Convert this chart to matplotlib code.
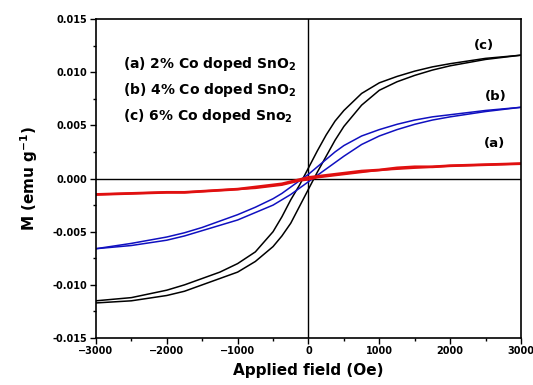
import matplotlib
matplotlib.use("Agg")
import matplotlib.pyplot as plt
from matplotlib.ticker import MultipleLocator

H = [-3000, -2500, -2000, -1750, -1500, -1250, -1000, -750, -500, -375, -250, -125,
     0, 125, 250, 375, 500, 750, 1000, 1250, 1500, 1750, 2000, 2500, 3000]

c_upper = [-0.0115, -0.0112, -0.0105, -0.0100, -0.0094, -0.0088, -0.0080, -0.0069, -0.0050,
           -0.0036, -0.0020, -0.0006, 0.0010, 0.0026, 0.0041, 0.0054, 0.0064, 0.0080,
           0.0090, 0.0096, 0.0101, 0.0105, 0.0108, 0.0113, 0.0116]
c_lower = [-0.0117, -0.0115, -0.0110, -0.0106, -0.0100, -0.0094, -0.0088, -0.0078, -0.0064,
           -0.0054, -0.0042, -0.0026, -0.0010, 0.0006, 0.0021, 0.0036, 0.0049, 0.0069,
           0.0083, 0.0091, 0.0097, 0.0102, 0.0106, 0.0112, 0.0116]

b_upper = [-0.0066, -0.0061, -0.0055, -0.0051, -0.0046, -0.0040, -0.0034, -0.0027, -0.0019,
           -0.0014, -0.0008, -0.0002, 0.0004, 0.0011, 0.0018, 0.0025, 0.0031, 0.0040,
           0.0046, 0.0051, 0.0055, 0.0058, 0.0060, 0.0064, 0.0067]
b_lower = [-0.0066, -0.0063, -0.0058, -0.0054, -0.0049, -0.0044, -0.0039, -0.0032, -0.0025,
           -0.0020, -0.0015, -0.0009, -0.0003, 0.0003, 0.0009, 0.0015, 0.0021, 0.0032,
           0.0040, 0.0046, 0.0051, 0.0055, 0.0058, 0.0063, 0.0067]

a_upper = [-0.0015, -0.0014, -0.0013, -0.0013, -0.0012, -0.0011, -0.0010, -0.0008, -0.0006,
           -0.0005, -0.0003, -0.0001, 0.0001, 0.0002, 0.0003, 0.0004, 0.0005, 0.0007,
           0.0008, 0.0010, 0.0011, 0.0011, 0.0012, 0.0013, 0.0014]
a_lower = [-0.0015, -0.0014, -0.0013, -0.0013, -0.0012, -0.0011, -0.0010, -0.0009, -0.0007,
           -0.0006, -0.0004, -0.0002, -0.0001, 0.0001, 0.0002, 0.0003, 0.0004, 0.0006,
           0.0008, 0.0009, 0.0010, 0.0011, 0.0012, 0.0013, 0.0014]

legend_lines = ["(a) 2% Co doped SnO$_\\mathbf{2}$",
                "(b) 4% Co doped SnO$_\\mathbf{2}$",
                "(c) 6% Co doped Sno$_\\mathbf{2}$"]
curve_labels = ["(a)", "(b)", "(c)"]

plt.rcParams['font.family'] = ['DejaVu Sans']
plt.rcParams['font.weight'] = 'bold'
plt.rcParams['mathtext.default'] = 'bf'

fig = plt.figure(figsize=(5.33, 3.85), dpi=100)
ax = fig.add_axes([0.180, 0.122, 0.7975, 0.8286])

ax.axhline(0, color='black', lw=1.0, zorder=1)
ax.axvline(0, color='black', lw=1.0, zorder=1)

ax.plot(H, c_upper, color='black', lw=1.1)
ax.plot(H, c_lower, color='black', lw=1.1)
ax.plot(H, b_upper, color='#1010c0', lw=1.1)
ax.plot(H, b_lower, color='#1010c0', lw=1.1)
ax.plot(H, a_upper, color='#e01010', lw=2.0)
ax.plot(H, a_lower, color='#e01010', lw=1.5)

ax.set_xlim(-3000, 3000)
ax.set_ylim(-0.015, 0.015)
ax.xaxis.set_major_locator(MultipleLocator(1000))
ax.xaxis.set_minor_locator(MultipleLocator(500))
ax.yaxis.set_major_locator(MultipleLocator(0.005))
ax.yaxis.set_minor_locator(MultipleLocator(0.0025))
ax.yaxis.set_major_formatter(matplotlib.ticker.FormatStrFormatter('%.3f'))

ax.tick_params(which='both', direction='out', top=False, right=False, width=1.0)
ax.tick_params(which='major', length=4, labelsize=7, pad=2)
ax.tick_params(which='minor', length=2.5)
for lab in ax.get_xticklabels() + ax.get_yticklabels():
    lab.set_fontweight('bold')
for sp in ax.spines.values():
    sp.set_linewidth(1.2)

ax.set_xlabel('Applied field (Oe)', fontsize=11, fontweight='bold', labelpad=5)
ax.set_ylabel('M (emu g$^{\\mathbf{-1}}$)', fontsize=11, fontweight='bold', labelpad=9)

legend_y = [0.0108, 0.0083, 0.0059]
for txt, yy in zip(legend_lines, legend_y):
    ax.text(-2620, yy, txt, fontsize=10, fontweight='bold', va='center', ha='left')

label_pos = [(2620, 0.0033), (2650, 0.0077), (2480, 0.0125)]
for txt, (xx, yy) in zip(curve_labels, label_pos):
    ax.text(xx, yy, txt, fontsize=9.5, fontweight='bold', va='center', ha='center')

fig.savefig('out.png', dpi=100)
